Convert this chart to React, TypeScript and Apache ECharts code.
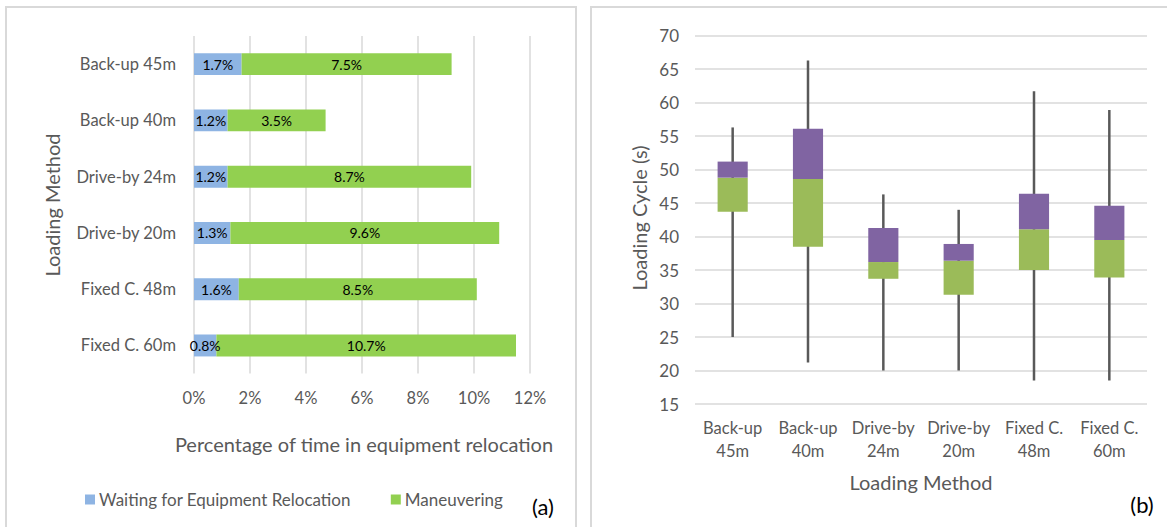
import React, { useEffect, useRef } from "react";
import * as echarts from "echarts";

// Loading methods, shared by both panels (top-to-bottom on the left, left-to-right on the right)
const methods = [
  "Back-up 45m",
  "Back-up 40m",
  "Drive-by 24m",
  "Drive-by 20m",
  "Fixed C. 48m",
  "Fixed C. 60m",
];

// (a) share of time spent in equipment relocation, %
const waitingPct = [1.7, 1.2, 1.2, 1.3, 1.6, 0.8];
const maneuveringPct = [7.5, 3.5, 8.7, 9.6, 8.5, 10.7];
const pctTicks = { min: 0, max: 12, interval: 2 };

// (b) loading cycle distribution, seconds
const cycleMin = [25.0, 21.2, 20.0, 20.0, 18.5, 18.5];
const cycleQ1 = [43.7, 38.5, 33.7, 31.3, 35.0, 33.9];
const cycleMedian = [48.8, 48.6, 36.2, 36.4, 41.1, 39.5];
const cycleQ3 = [51.2, 56.1, 41.3, 38.9, 46.4, 44.6];
const cycleMax = [56.3, 66.3, 46.3, 44.0, 61.7, 58.9];
const cycleTicks = { min: 15, max: 70, interval: 5 };

const FONT = "Lato";
const GREY = "#595959";
const GRID_LINE = "#d9d9d9";

export default function App() {
  const ref = useRef<HTMLDivElement>(null);

  useEffect(() => {
    if (!ref.current) return;
    const chart = echarts.init(ref.current, undefined, { renderer: "svg" });

    const lowerBox = cycleMedian.map((m, i) => +(m - cycleQ1[i]).toFixed(2));
    const upperBox = cycleQ3.map((q, i) => +(q - cycleMedian[i]).toFixed(2));
    const whiskers = methods.map((_, i) => [i, cycleMin[i], cycleMax[i]]);

    const barLabel = {
      show: true,
      position: "inside" as const,
      color: "#000",
      fontSize: 14,
      formatter: "{c}%",
    };

    const option: echarts.EChartsOption = {
      animation: false,
      textStyle: { fontFamily: FONT },
      grid: [
        { left: 194, top: 36, width: 336, height: 337.6 },
        { left: 695, top: 35.7, width: 452, height: 368.3 },
      ],
      legend: {
        data: ["Waiting for Equipment Relocation", "Maneuvering"],
        left: 80,
        top: 486,
        itemWidth: 10,
        itemHeight: 10,
        itemGap: 40,
        icon: "rect",
        selectedMode: false,
        textStyle: { color: GREY, fontSize: 17, fontFamily: FONT, padding: [0, 0, 0, -1] },
      },
      xAxis: [
        {
          type: "value",
          gridIndex: 0,
          ...pctTicks,
          axisLine: { show: false },
          axisTick: { show: false },
          axisLabel: { formatter: "{value}%", color: GREY, fontSize: 16.5, margin: 16 },
          splitLine: { show: true, lineStyle: { color: GRID_LINE, width: 1.5 } },
        },
        {
          type: "category",
          gridIndex: 1,
          data: methods,
          axisLine: { show: false },
          axisTick: { show: false },
          axisLabel: {
            color: GREY,
            fontSize: 16.5,
            lineHeight: 23,
            margin: 12,
            interval: 0,
            formatter: (v: string) => {
              const k = v.lastIndexOf(" ");
              return v.slice(0, k) + "\n" + v.slice(k + 1);
            },
          },
        },
      ],
      yAxis: [
        {
          type: "category",
          gridIndex: 0,
          data: methods,
          inverse: true,
          axisLine: { show: false },
          axisTick: { show: false },
          axisLabel: { color: GREY, fontSize: 16.5, margin: 18 },
        },
        {
          type: "value",
          gridIndex: 1,
          ...cycleTicks,
          axisLine: { show: false },
          axisTick: { show: false },
          axisLabel: { color: GREY, fontSize: 17, margin: 16 },
          splitLine: { show: true, lineStyle: { color: GRID_LINE, width: 1.5 } },
        },
      ],
      series: [
        {
          name: "Waiting for Equipment Relocation",
          type: "bar",
          xAxisIndex: 0,
          yAxisIndex: 0,
          stack: "reloc",
          barWidth: "39%",
          data: waitingPct,
          itemStyle: { color: "#8eb4e3" },
          label: barLabel,
        },
        {
          name: "Maneuvering",
          type: "bar",
          xAxisIndex: 0,
          yAxisIndex: 0,
          stack: "reloc",
          barWidth: "39%",
          data: maneuveringPct,
          itemStyle: { color: "#92d050" },
          label: barLabel,
        },
        {
          name: "whisker",
          type: "custom",
          xAxisIndex: 1,
          yAxisIndex: 1,
          z: 1,
          data: whiskers,
          encode: { x: 0, y: [1, 2] },
          renderItem: (_params: any, api: any) => {
            const idx = api.value(0);
            const lo = api.coord([idx, api.value(1)]);
            const hi = api.coord([idx, api.value(2)]);
            return {
              type: "line",
              shape: { x1: lo[0], y1: lo[1], x2: hi[0], y2: hi[1] },
              style: { stroke: GREY, lineWidth: 2.5 },
            };
          },
        },
        {
          name: "base",
          type: "bar",
          xAxisIndex: 1,
          yAxisIndex: 1,
          stack: "box",
          barWidth: "40%",
          z: 2,
          data: cycleQ1,
          itemStyle: { color: "rgba(0,0,0,0)" },
        },
        {
          name: "Q1 to median",
          type: "bar",
          xAxisIndex: 1,
          yAxisIndex: 1,
          stack: "box",
          barWidth: "40%",
          z: 2,
          data: lowerBox,
          itemStyle: { color: "#9bbb59" },
        },
        {
          name: "median to Q3",
          type: "bar",
          xAxisIndex: 1,
          yAxisIndex: 1,
          stack: "box",
          barWidth: "40%",
          z: 2,
          data: upperBox,
          itemStyle: { color: "#8064a2" },
        },
      ],
      graphic: [
        {
          type: "rect",
          shape: { x: 6, y: 7, width: 570, height: 540 },
          style: { fill: "none", stroke: GRID_LINE, lineWidth: 2 },
          silent: true,
        },
        {
          type: "rect",
          shape: { x: 591, y: 7, width: 590, height: 540 },
          style: { fill: "none", stroke: GRID_LINE, lineWidth: 2 },
          silent: true,
        },
        {
          type: "text",
          x: 364,
          y: 444,
          style: {
            text: "Percentage of time in equipment relocation",
            fill: GREY,
            font: `20px ${FONT}`,
            textAlign: "center",
            textVerticalAlign: "middle",
          },
        },
        {
          type: "text",
          x: 52,
          y: 205,
          rotation: Math.PI / 2,
          style: {
            text: "Loading Method",
            fill: GREY,
            font: `20px ${FONT}`,
            textAlign: "center",
            textVerticalAlign: "middle",
          },
        },
        {
          type: "text",
          x: 543,
          y: 506,
          style: {
            text: "(a)",
            fill: "#000",
            font: `22px ${FONT}`,
            textAlign: "center",
            textVerticalAlign: "middle",
          },
        },
        {
          type: "text",
          x: 921,
          y: 482,
          style: {
            text: "Loading Method",
            fill: GREY,
            font: `20px ${FONT}`,
            textAlign: "center",
            textVerticalAlign: "middle",
          },
        },
        {
          type: "text",
          x: 639,
          y: 218,
          rotation: Math.PI / 2,
          style: {
            text: "Loading Cycle (s)",
            fill: GREY,
            font: `20px ${FONT}`,
            textAlign: "center",
            textVerticalAlign: "middle",
          },
        },
        {
          type: "text",
          x: 1142,
          y: 504,
          style: {
            text: "(b)",
            fill: "#000",
            font: `22px ${FONT}`,
            textAlign: "center",
            textVerticalAlign: "middle",
          },
        },
      ],
    };

    chart.setOption(option);
    return () => chart.dispose();
  }, []);

  return (
    <div
      ref={ref}
      style={{ position: "absolute", left: 0, top: 0, width: 1167, height: 527, background: "#fff" }}
    />
  );
}
